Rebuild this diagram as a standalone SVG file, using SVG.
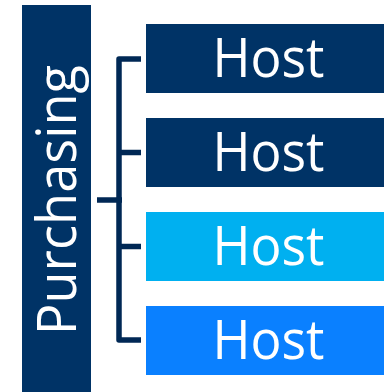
<svg xmlns="http://www.w3.org/2000/svg" width="384" height="392" viewBox="0 0 384 392">
<style>
.t{font-family:"Open Sans","Noto Sans",sans-serif;font-size:54px;fill:#fff;stroke:none}
.l{fill:none;stroke:#002855;stroke-width:5.500;stroke-linejoin:round}
</style>
<rect width="384" height="392" fill="#fff"/>
<g id="connectors">
<path class="l" d="M141 59H119V340H141"/>
<path class="l" d="M119 152.500H141M119 246.500H141M97 200H122"/>
</g>
<g id="purchasing">
<rect x="22" y="5" width="69" height="387" fill="#003366"/>
<text class="t" transform="translate(75.500 335) rotate(-90)" textLength="270" lengthAdjust="spacingAndGlyphs">Purchasing</text>
</g>
<g id="host1">
<rect x="146" y="24" width="238" height="69" fill="#003366"/>
<text class="t" x="212.500" y="77" textLength="112" lengthAdjust="spacingAndGlyphs">Host</text>
</g>
<g id="host2">
<rect x="146" y="118" width="238" height="69" fill="#003366"/>
<text class="t" x="212.500" y="171" textLength="112" lengthAdjust="spacingAndGlyphs">Host</text>
</g>
<g id="host3">
<rect x="146" y="212" width="238" height="69" fill="#00B0F0"/>
<text class="t" x="212.500" y="265" textLength="112" lengthAdjust="spacingAndGlyphs">Host</text>
</g>
<g id="host4">
<rect x="146" y="306" width="238" height="69" fill="#0A80FF"/>
<text class="t" x="212.500" y="359" textLength="112" lengthAdjust="spacingAndGlyphs">Host</text>
</g>
</svg>
